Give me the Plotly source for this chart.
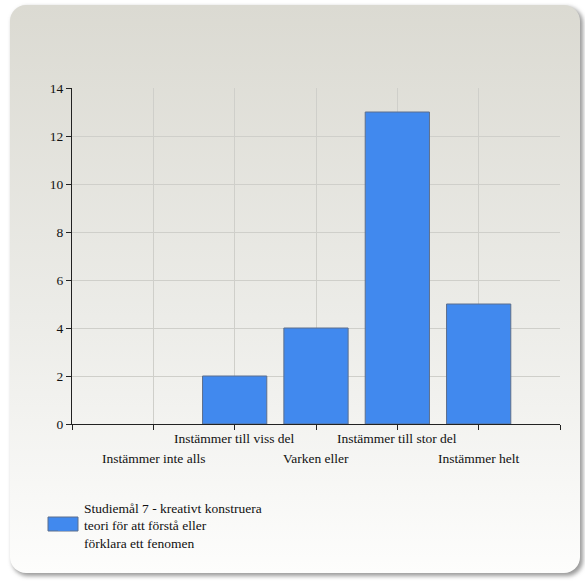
import base64
import plotly.graph_objects as go

categories = ["Instämmer inte alls", "Instämmer till viss del", "Varken eller",
              "Instämmer till stor del", "Instämmer helt"]
values = [0, 2, 4, 13, 5]
series_name = "Studiemål 7 - kreativt konstruera<br>teori för att förstå eller<br>förklara ett fenomen"
y_ticks = [0, 2, 4, 6, 8, 10, 12, 14]

W, H = 585, 581
ML, MR, MT, MB = 72, 25, 88, 157
PW, PH = W - ML - MR, H - MT - MB
FONT = "Liberation Serif"
BAR_COLOR = "#4189ee"
BAR_EDGE = "#5d6f8c"

svg = f'''<svg xmlns="http://www.w3.org/2000/svg" width="{W}" height="{H}" viewBox="0 0 {W} {H}">
<defs>
<linearGradient id="g" x1="0" y1="0" x2="0" y2="1">
<stop offset="0" stop-color="#dbdad2"/>
<stop offset="0.55" stop-color="#ecece8"/>
<stop offset="1" stop-color="#fdfdfc"/>
</linearGradient>
<filter id="b" x="-5%" y="-5%" width="110%" height="110%"><feGaussianBlur stdDeviation="2"/></filter>
</defs>
<rect x="12" y="7" width="571" height="569" rx="16" fill="#9a9a9a" filter="url(#b)"/>
<rect x="10" y="5" width="570" height="568" rx="16" fill="url(#g)"/>
</svg>'''
bg_uri = "data:image/svg+xml;base64," + base64.b64encode(svg.encode()).decode()

x_idx = list(range(len(categories)))
line_w = [0 if v == 0 else 1 for v in values]

fig = go.Figure()
fig.add_trace(go.Bar(
    x=x_idx, y=values, width=0.79, name=series_name,
    marker=dict(color=BAR_COLOR, line=dict(color=BAR_EDGE, width=line_w)),
))

annotations = []
for i, c in enumerate(categories):
    upper = (i % 2 == 1)
    annotations.append(dict(
        x=i, xref="x", y=0, yref="paper", yanchor="top", xanchor="center",
        text=c, showarrow=False, yshift=-5 if upper else -25,
        font=dict(family=FONT, size=13.5, color="#111"),
    ))

def px_x(p):
    return (p - ML) / PW

def px_y(p):
    return (H - MB - p) / PH

fig.update_layout(
    width=W, height=H,
    margin=dict(l=ML, r=MR, t=MT, b=MB),
    paper_bgcolor="white", plot_bgcolor="rgba(0,0,0,0)",
    font=dict(family=FONT, size=13.5, color="#111"),
    showlegend=True,
    legend=dict(x=px_x(44), y=px_y(492), xanchor="left", yanchor="top",
                bgcolor="rgba(0,0,0,0)", font=dict(size=13.5, family=FONT, color="#111"),
                itemwidth=30),
    annotations=annotations,
    shapes=[dict(type="rect", xref="paper", yref="paper",
                 x0=px_x(48), x1=px_x(78), y0=px_y(531), y1=px_y(517),
                 fillcolor=BAR_COLOR, line=dict(color=BAR_EDGE, width=1), layer="above")],
    images=[dict(source=bg_uri, xref="paper", yref="paper",
                 x=-ML / PW, y=1 + MT / PH, sizex=W / PW, sizey=H / PH,
                 xanchor="left", yanchor="top", sizing="stretch", layer="below")],
)
fig.update_xaxes(range=[-1, 5], tickmode="array", tickvals=[-1, 0, 1, 2, 3, 4, 5],
                 showticklabels=False, ticks="outside", ticklen=5, tickcolor="#222",
                 showgrid=True, gridcolor="#cfcfca", gridwidth=1,
                 showline=True, linecolor="#222", linewidth=1, zeroline=False)
fig.update_yaxes(range=[0, 14], tickvals=y_ticks, ticks="outside", ticklen=5,
                 tickcolor="#222", showgrid=True, gridcolor="#cfcfca", gridwidth=1,
                 showline=True, linecolor="#222", linewidth=1, zeroline=False,
                 tickfont=dict(family=FONT, size=13.5, color="#111"))

fig.write_html("out.html", config={"displayModeBar": False},
               post_script="document.body.style.margin='0';")
